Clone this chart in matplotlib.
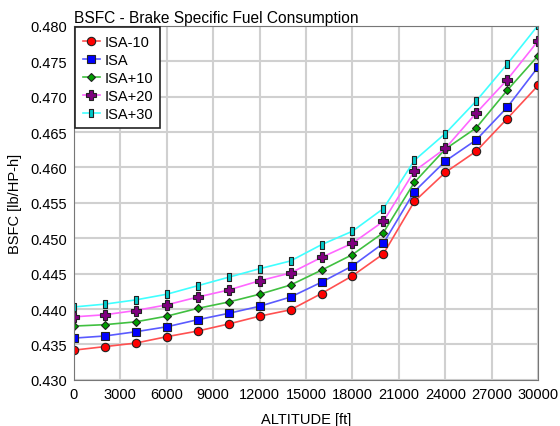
import numpy as np
import matplotlib
matplotlib.use('Agg')
from matplotlib import pyplot as plt

plt.rcParams['font.family'] = ['Liberation Sans', 'DejaVu Sans']

altitude = [0, 2000, 4000, 6000, 8000, 10000, 12000, 14000, 16000,
            18000, 20000, 22000, 24000, 26000, 28000, 30000]
isa_m10 = [0.4342, 0.4347, 0.4352, 0.4361, 0.4369, 0.4379, 0.4390, 0.4399,
           0.4422, 0.4447, 0.4478, 0.4552, 0.4593, 0.4623, 0.4669, 0.4716]
isa = [0.4359, 0.4362, 0.4368, 0.4375, 0.4385, 0.4394, 0.4404, 0.4417,
       0.4438, 0.4461, 0.4493, 0.4566, 0.4609, 0.4639, 0.4685, 0.4742]
isa_p10 = [0.4376, 0.4378, 0.4382, 0.4390, 0.4401, 0.4410, 0.4421, 0.4434,
           0.4455, 0.4477, 0.4508, 0.4579, 0.4626, 0.4656, 0.4709, 0.4758]
isa_p20 = [0.4389, 0.4392, 0.4398, 0.4406, 0.4417, 0.4427, 0.4440, 0.4451,
           0.4473, 0.4493, 0.4524, 0.4595, 0.4627, 0.4677, 0.4724, 0.4779]
isa_p30 = [0.4403, 0.4407, 0.4413, 0.4421, 0.4433, 0.4445, 0.4457, 0.4468,
           0.4491, 0.4510, 0.4542, 0.4610, 0.4648, 0.4694, 0.4746, 0.4801]
labels = ['ISA-10', 'ISA', 'ISA+10', 'ISA+20', 'ISA+30']
xticks = np.arange(0, 30001, 3000)
yticks = np.arange(0.430, 0.4801, 0.005)

# thin upright box marker for ISA+30
rect = [(-0.45, -1), (0.45, -1), (0.45, 1), (-0.45, 1), (-0.45, -1)]
styles = [
    ('#ff5050', '#ff0000', 'o', 6),
    ('#5a5aff', '#0000ff', 's', 6),
    ('#40c040', '#00a000', 'D', 4.5),
    ('#ff66ff', '#800080', 'P', 6.5),
    ('#40ffff', '#00c8c8', rect, 6),
]
series = [isa_m10, isa, isa_p10, isa_p20, isa_p30]

fig = plt.figure(figsize=(5.6, 4.27), dpi=100)
ax = fig.add_axes([0.132, 0.108, 0.829, 0.829])
for vals, lab, (lc, mc, mk, ms) in zip(series, labels, styles):
    ax.plot(altitude, vals, color=lc, lw=1.2, marker=mk, ms=ms,
            mfc=mc, mec='#222222', mew=0.8, label=lab)

ax.set_xlim(0, 30000)
ax.set_ylim(0.430, 0.480)
ax.set_xticks(xticks)
ax.set_yticks(yticks)
ax.set_yticklabels(['%.3f' % v for v in yticks])
ax.tick_params(length=0, labelsize=10.5, pad=5)
ax.grid(True, color='#d0d0d0', lw=1.5)
ax.set_axisbelow(True)
for s in ax.spines.values():
    s.set_color('#777777')
ax.set_xlabel('ALTITUDE [ft]', fontsize=10.5, labelpad=8)
ax.set_ylabel('BSFC [lb/HP-h]', fontsize=10.5, labelpad=6)
ax.set_title('BSFC - Brake Specific Fuel Consumption', loc='left',
             fontsize=11.2, pad=3)
leg = ax.legend(loc='upper left', fontsize=10.5, fancybox=False,
                framealpha=1, edgecolor='#222222', borderaxespad=0.1,
                handlelength=1.2, handletextpad=0.3, labelspacing=0.28,
                borderpad=0.5)
leg.get_frame().set_linewidth(1.2)

fig.savefig('out.png', dpi=100)
